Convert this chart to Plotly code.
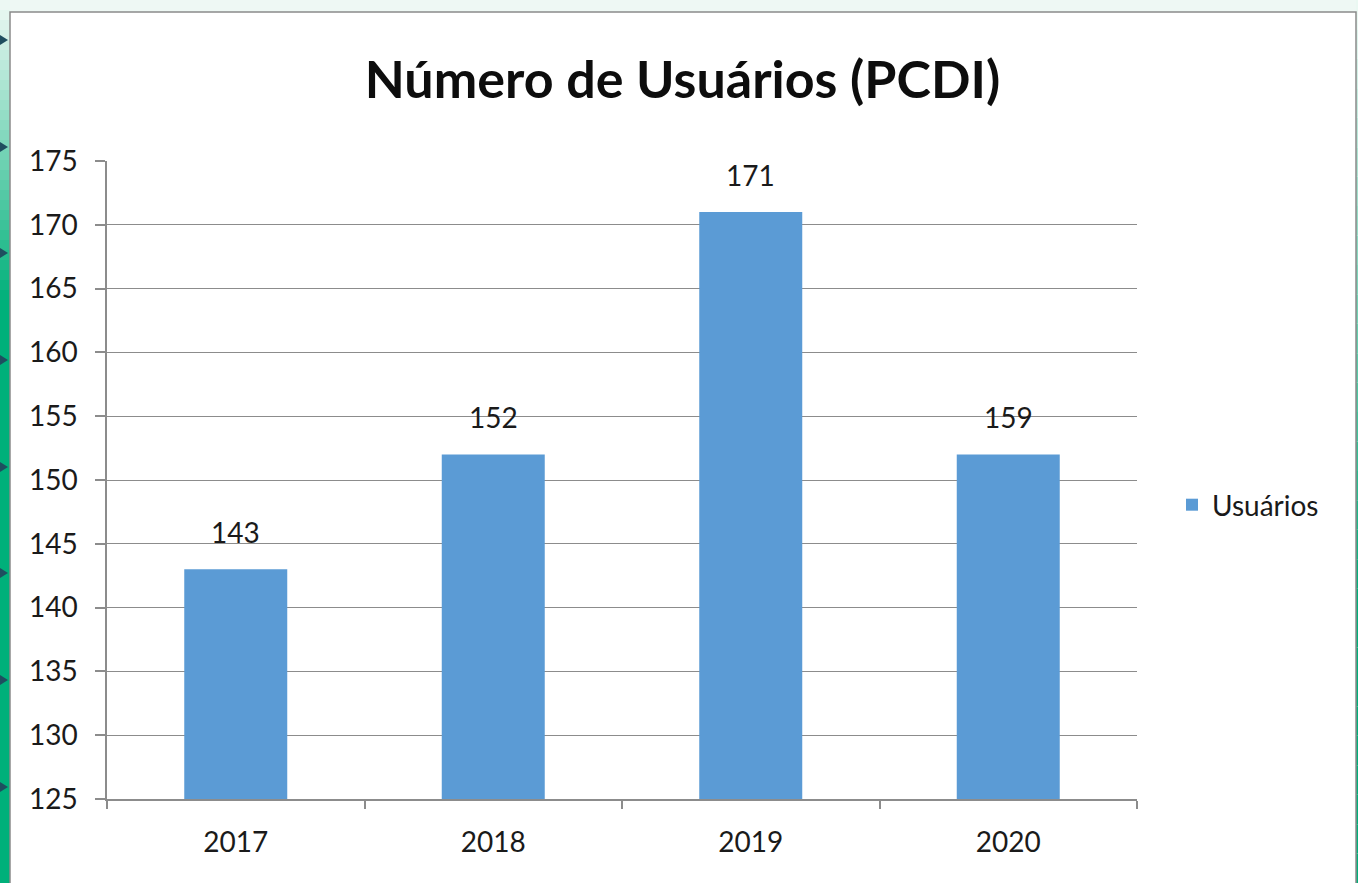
import plotly.graph_objects as go

categories = ["2017", "2018", "2019", "2020"]
values = [143, 152, 171, 152]
labels = ["143", "152", "171", "159"]
series_name = "Usuários"
title = "Número de Usuários (PCDI)"
y_ticks = [125, 130, 135, 140, 145, 150, 155, 160, 165, 170, 175]

W, H = 1358, 883
ML, MR, MT, MB = 107, 221, 161, 84
PW = W - ML - MR
PH = H - MT - MB

def px_x(p):
    return (p - ML) / PW

def px_y(p):
    return (H - MB - p) / PH

FONT = "Lato"
BAR = "#5b9bd5"
GRID = "#8c8c8c"
TXT = "#1a1a1a"

fig = go.Figure()
fig.add_trace(go.Bar(
    x=categories, y=values, name=series_name,
    marker=dict(color=BAR, line=dict(width=0)),
    width=0.4,
))

annotations = []
for i, (v, t) in enumerate(zip(values, labels)):
    annotations.append(dict(x=i, y=v, xref="x", yref="y", text=t, showarrow=False,
                            yanchor="middle", yshift=37,
                            font=dict(family=FONT, size=28, color=TXT)))

shapes = []
def lerp(c1, c2, t):
    return "#%02x%02x%02x" % tuple(int(c1[i] + (c2[i] - c1[i]) * t) for i in range(3))
white = (240, 250, 246)
green = (0, 176, 122)
n = 30
for i in range(n):
    y0 = i * 300 / n
    y1 = (i + 1) * 300 / n
    col = lerp(white, green, min(1, (i + 0.5) / n))
    shapes.append(dict(type="rect", xref="paper", yref="paper",
                       x0=px_x(0), x1=px_x(10), y0=px_y(y1), y1=px_y(y0),
                       fillcolor=col, line=dict(width=0), layer="below"))
shapes.append(dict(type="rect", xref="paper", yref="paper",
                   x0=px_x(0), x1=px_x(10), y0=px_y(H), y1=px_y(300),
                   fillcolor="rgb(0,176,122)", line=dict(width=0), layer="below"))
for i in range(n):
    y0 = i * 883 / n
    y1 = (i + 1) * 883 / n
    col = lerp(white, green, min(1, (i + 0.5) / n * 1.5))
    shapes.append(dict(type="rect", xref="paper", yref="paper",
                       x0=px_x(1356), x1=px_x(1358), y0=px_y(y1), y1=px_y(y0),
                       fillcolor=col, line=dict(width=0), layer="below"))
shapes.append(dict(type="rect", xref="paper", yref="paper",
                   x0=px_x(10), x1=px_x(1356), y0=px_y(12), y1=px_y(0),
                   fillcolor="#eef8f4", line=dict(width=0), layer="below"))
for ay in [40, 147, 253, 360, 467, 573, 680, 787]:
    path = "M %f,%f L %f,%f L %f,%f Z" % (
        px_x(0), px_y(ay - 5), px_x(8), px_y(ay), px_x(0), px_y(ay + 5))
    shapes.append(dict(type="path", xref="paper", yref="paper", path=path,
                       fillcolor="#1f4e5f", line=dict(width=0)))
shapes.append(dict(type="rect", xref="paper", yref="paper",
                   x0=px_x(10), x1=px_x(1356), y0=px_y(H + 5), y1=px_y(12),
                   fillcolor="rgba(0,0,0,0)", line=dict(color="#8a8a8a", width=1.5)))

fig.update_layout(
    width=W, height=H,
    margin=dict(l=ML, r=MR, t=MT, b=MB),
    paper_bgcolor="white", plot_bgcolor="white",
    title=dict(text="<b>" + title + "</b>", x=(362 + 1003) / 2 / W, xanchor="center",
               y=1 - 80 / H, yanchor="middle",
               font=dict(family=FONT, size=52, color="#0d0d0d")),
    font=dict(family=FONT, color=TXT),
    bargap=0.6,
    showlegend=True,
    legend=dict(x=px_x(1172), y=px_y(505), xanchor="left", yanchor="middle",
                font=dict(family=FONT, size=28, color=TXT),
                itemwidth=30, bgcolor="rgba(0,0,0,0)"),
    shapes=shapes,
    annotations=annotations,
    xaxis=dict(
        type="category", range=[-0.5, 3.5], tickangle=0,
        showline=True, linecolor=GRID, linewidth=1.5,
        ticks="outside", ticklen=8, tickcolor=GRID, tickwidth=1.5,
        tickson="boundaries", showgrid=False,
        ticklabelstandoff=18,
        tickfont=dict(family=FONT, size=28, color=TXT),
    ),
    yaxis=dict(
        range=[125, 175], tickvals=y_ticks,
        showline=True, linecolor=GRID, linewidth=1.5,
        ticks="outside", ticklen=10, tickcolor=GRID, tickwidth=1.5,
        showgrid=True, gridcolor=GRID, gridwidth=1.2,
        zeroline=False,
        ticklabelstandoff=12,
        tickfont=dict(family=FONT, size=28, color=TXT),
    ),
)

fig.write_html("out.html", config={"displayModeBar": False},
               post_script="document.body.style.margin='0';document.body.style.overflow='hidden';")
